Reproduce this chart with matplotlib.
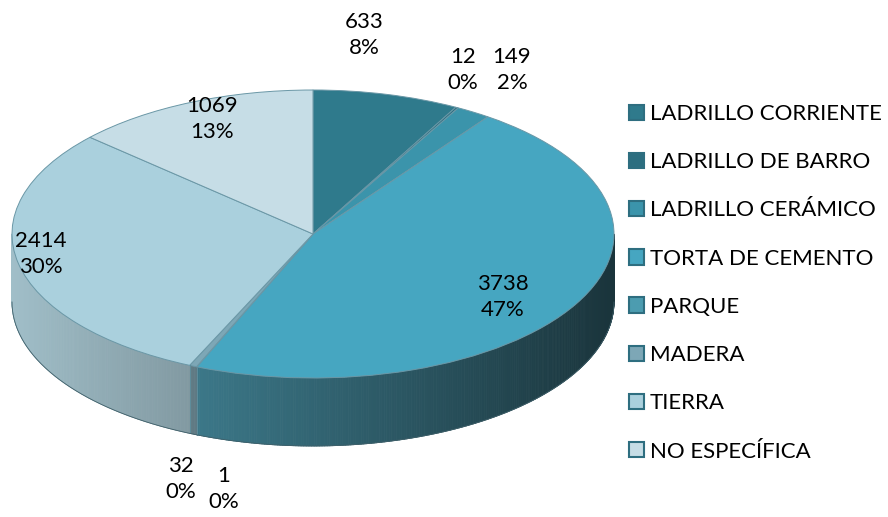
import numpy as np
import matplotlib.pyplot as plt
from matplotlib.patches import Patch
from matplotlib.collections import PolyCollection
import matplotlib.colors as mcolors

plt.rcParams['font.family'] = ['Lato', 'DejaVu Sans']

categories = ["LADRILLO CORRIENTE", "LADRILLO DE BARRO", "LADRILLO CERÁMICO",
              "TORTA DE CEMENTO", "PARQUE", "MADERA", "TIERRA", "NO ESPECÍFICA"]
values = [633, 12, 149, 3738, 1, 32, 2414, 1069]
pct_text = ["8%", "0%", "2%", "47%", "0%", "0%", "30%", "13%"]
colors = ["#2F7A8C", "#2C6E80", "#3B94AB", "#46A6C1", "#4C9CB0", "#7DA7B6", "#AAD0DD", "#C6DDE6"]

# label centres in pixels (x, y from top)
label_pos = [(364, 35), (463, 70), (512, 70), (503, 297),
             (224, 489), (181, 479), (41, 254), (212, 119)]

W, H = 888, 517
cx, cy, rx, ry, depth = 313, 234, 301, 144, 68

fig = plt.figure(figsize=(W / 100, H / 100), dpi=100)
ax = fig.add_axes([0, 0, 1, 1])


def px(x, y):
    return (x - cx) / rx, (cy - y) / ry


d = depth / ry
total = sum(values)
edges = 90 - 360 * np.cumsum([0] + values) / total

# side wall of the pie (front half only), shaded darker towards the right
polys, fcs = [], []
for i in range(len(values)):
    lo, hi = max(edges[i + 1], -180), min(edges[i], 0)
    if hi <= lo:
        continue
    t = np.radians(np.linspace(lo, hi, max(2, int((hi - lo) / 0.5) + 2)))
    base = np.array(mcolors.to_rgb(colors[i]))
    grey = base.mean()
    for t0, t1 in zip(t[:-1], t[1:]):
        c = np.cos((t0 + t1) / 2)
        f = 0.62 - 0.3 * c
        col = (0.85 * base + 0.15 * grey) * f
        polys.append([(np.cos(t0), np.sin(t0)), (np.cos(t1), np.sin(t1)),
                      (np.cos(t1), np.sin(t1) - d), (np.cos(t0), np.sin(t0) - d)])
        fcs.append(np.clip(col, 0, 1))
ax.add_collection(PolyCollection(polys, facecolors=fcs, edgecolors=fcs, linewidths=0.6))

# slice boundaries and bottom outline on the wall
for e in edges:
    if -180 < e < 0:
        t = np.radians(e)
        ax.plot([np.cos(t)] * 2, [np.sin(t), np.sin(t) - d], color="#5E8D9B", lw=0.7)
tb = np.radians(np.linspace(-180, 0, 200))
ax.plot(np.cos(tb), np.sin(tb) - d, color="#3F5F69", lw=0.6)

ax.pie(values, colors=colors, startangle=90, counterclock=False, radius=1, center=(0, 0),
       wedgeprops=dict(edgecolor="#6A97A6", linewidth=0.7))

for v, p, (lx, ly) in zip(values, pct_text, label_pos):
    x, y = px(lx, ly)
    ax.text(x, y, f"{v}\n{p}", ha="center", va="center", fontsize=16, linespacing=1.35,
            color="black")

handles = [Patch(facecolor=c, edgecolor="#2E6E80", linewidth=1.5) for c in colors]
fig.legend(handles, categories, loc="upper left", bbox_to_anchor=(629 / W, 1 - 104 / H),
           frameon=False, fontsize=16, borderpad=0, borderaxespad=0,
           handlelength=0.68, handleheight=0.68, handletextpad=0.25, labelspacing=1.27)

ax.set_xlim(px(0, 0)[0], px(W, 0)[0])
ax.set_ylim(px(0, H)[1], px(0, 0)[1])
ax.set_aspect("auto")
ax.axis("off")

fig.savefig("out.png", dpi=100)
